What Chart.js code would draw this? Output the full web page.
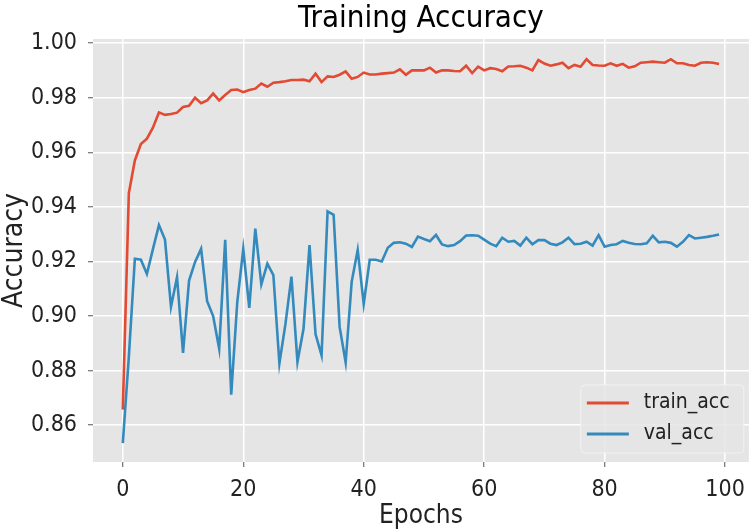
<!DOCTYPE html>
<html>
<head>
<meta charset="utf-8">
<script src="https://cdn.jsdelivr.net/npm/chart.js@4.4.1/dist/chart.umd.min.js"></script>
<style>
  html, body { margin: 0; padding: 0; background: #fff; }
  #wrap { width: 754px; height: 532px; }
</style>
</head>
<body>
<div id="wrap"><canvas id="chart" width="754" height="532"></canvas></div>
<script>
// Data
const xTicks = [0, 20, 40, 60, 80, 100];
const yTicks = [0.86, 0.88, 0.90, 0.92, 0.94, 0.96, 0.98, 1.00];

const trainAcc = [
  0.8657, 0.945, 0.957, 0.963, 0.965, 0.969, 0.9746, 0.9737, 0.974, 0.9745,
  0.9766, 0.977, 0.980, 0.978, 0.979, 0.9815, 0.979, 0.981, 0.9828, 0.983,
  0.982, 0.9828, 0.9833, 0.9852, 0.984, 0.9855, 0.9857, 0.986, 0.9865, 0.9865,
  0.9866, 0.986, 0.9888, 0.9857, 0.9878, 0.9876, 0.9884, 0.9896, 0.9869, 0.9876,
  0.9892, 0.9885, 0.9885, 0.9888, 0.989, 0.9892, 0.9904, 0.9884, 0.990, 0.990,
  0.990, 0.991, 0.9892, 0.990, 0.990, 0.9898, 0.9897, 0.9917, 0.989, 0.9914,
  0.990, 0.9908, 0.9905, 0.9897, 0.9914, 0.9915, 0.9917, 0.991, 0.990, 0.9938,
  0.9925, 0.9917, 0.9922, 0.9928, 0.9908, 0.992, 0.9913, 0.9941, 0.992, 0.9918,
  0.9917, 0.9926, 0.9917, 0.9924, 0.991, 0.9915, 0.9928, 0.993, 0.9932, 0.993,
  0.9928, 0.9941, 0.9926, 0.9926, 0.992, 0.9917, 0.9928, 0.993, 0.9928, 0.9923
];

const valAcc = [
  0.8534, 0.885, 0.921, 0.9206, 0.9154, 0.9245, 0.9333, 0.928, 0.9034, 0.9142,
  0.8865, 0.913, 0.9198, 0.9246, 0.9054, 0.900, 0.888, 0.9279, 0.8712, 0.905,
  0.9246, 0.903, 0.932, 0.9116, 0.9192, 0.915, 0.8826, 0.897, 0.9144, 0.8832,
  0.8952, 0.926, 0.8934, 0.8856, 0.9383, 0.9371, 0.896, 0.883, 0.9125, 0.9242,
  0.9044, 0.9206, 0.9206, 0.920, 0.925, 0.9268, 0.927, 0.9265, 0.9253, 0.9291,
  0.9282, 0.9274, 0.9297, 0.9262, 0.9256, 0.926, 0.9274, 0.9295, 0.9296, 0.9294,
  0.928, 0.9265, 0.9256, 0.9287, 0.9272, 0.9275, 0.9258, 0.9287, 0.9263, 0.9278,
  0.9278, 0.9265, 0.926, 0.927, 0.9287, 0.9263, 0.9265, 0.9272, 0.9258, 0.9296,
  0.9254, 0.926, 0.9263, 0.9275, 0.9268, 0.9264, 0.9263, 0.9266, 0.9294, 0.927,
  0.9272, 0.9268, 0.9254, 0.9272, 0.9296, 0.9284, 0.9287, 0.929, 0.9294, 0.9299
];

const FONT = "'DejaVu Sans Condensed', 'Liberation Sans Narrow', 'DejaVu Sans', sans-serif";
Chart.defaults.font.family = FONT;

// grey plot background (ggplot look)
const plotBg = {
  id: 'plotBg',
  beforeDraw(chart) {
    const a = chart.chartArea, ctx = chart.ctx;
    ctx.save();
    ctx.fillStyle = '#E5E5E5';
    ctx.fillRect(a.left, a.top, a.right - a.left, a.bottom - a.top);
    ctx.restore();
  }
};

// legend in the lower right corner, inside the axes
const innerLegend = {
  id: 'innerLegend',
  afterDatasetsDraw(chart) {
    const a = chart.chartArea, ctx = chart.ctx;
    const w = 163, h = 68;
    const x = a.right - 5 - w, y = a.bottom - 9 - h;
    ctx.save();
    ctx.beginPath();
    ctx.roundRect(x, y, w, h, 4);
    ctx.fillStyle = 'rgba(229,229,229,0.85)';
    ctx.fill();
    ctx.strokeStyle = '#f2f2f2';
    ctx.lineWidth = 1;
    ctx.stroke();
    chart.data.datasets.forEach((ds, i) => {
      const yy = y + 18 + i * 31;
      ctx.strokeStyle = ds.borderColor;
      ctx.lineWidth = 2.8;
      ctx.beginPath();
      ctx.moveTo(x + 6, yy);
      ctx.lineTo(x + 48, yy);
      ctx.stroke();
      ctx.fillStyle = '#222';
      ctx.font = '21px ' + FONT;
      ctx.textBaseline = 'middle';
      ctx.fillText(ds.label, x + 63, yy);
    });
    ctx.restore();
  }
};

new Chart(document.getElementById('chart'), {
  type: 'line',
  data: {
    datasets: [
      {
        label: 'train_acc',
        data: trainAcc.map((v, i) => ({ x: i, y: v })),
        borderColor: '#E24A33',
        borderWidth: 2.6,
        pointRadius: 0,
        tension: 0
      },
      {
        label: 'val_acc',
        data: valAcc.map((v, i) => ({ x: i, y: v })),
        borderColor: '#348ABD',
        borderWidth: 2.6,
        pointRadius: 0,
        tension: 0
      }
    ]
  },
  options: {
    responsive: false,
    animation: false,
    layout: { padding: { left: 0, right: 2, top: 0, bottom: 0 } },
    plugins: {
      legend: { display: false },
      tooltip: { enabled: false },
      title: {
        display: true,
        fullSize: false,
        text: 'Training Accuracy',
        color: '#000',
        font: { size: 31, weight: 'normal', lineHeight: 1.0 },
        padding: { top: 3, bottom: 5 }
      }
    },
    scales: {
      x: {
        type: 'linear',
        min: -4.95,
        max: 103.95,
        afterBuildTicks(s) { s.ticks = xTicks.map(v => ({ value: v })); },
        afterFit(s) { s.height = 70; },
        ticks: { color: '#222', font: { size: 23 }, padding: 9, maxRotation: 0 },
        grid: { color: '#fff', lineWidth: 1.5, tickColor: '#555', tickLength: 5, tickWidth: 1 },
        border: { display: false },
        title: { display: true, text: 'Epochs', color: '#222', font: { size: 26, lineHeight: 1.0 }, padding: { top: 0, bottom: 3 } }
      },
      y: {
        min: 0.8465,
        max: 1.0015,
        afterBuildTicks(s) { s.ticks = yTicks.map(v => ({ value: v })); },
        afterFit(s) { s.width = 93; },
        ticks: { color: '#222', font: { size: 23 }, padding: 11, callback: v => v.toFixed(2) },
        grid: { color: '#fff', lineWidth: 1.5, tickColor: '#555', tickLength: 5, tickWidth: 1 },
        border: { display: false },
        title: { display: true, text: 'Accuracy', color: '#222', font: { size: 28, lineHeight: 1.0 }, padding: { top: 1, bottom: 0 } }
      }
    }
  },
  plugins: [plotBg, innerLegend]
});
</script>
</body>
</html>
